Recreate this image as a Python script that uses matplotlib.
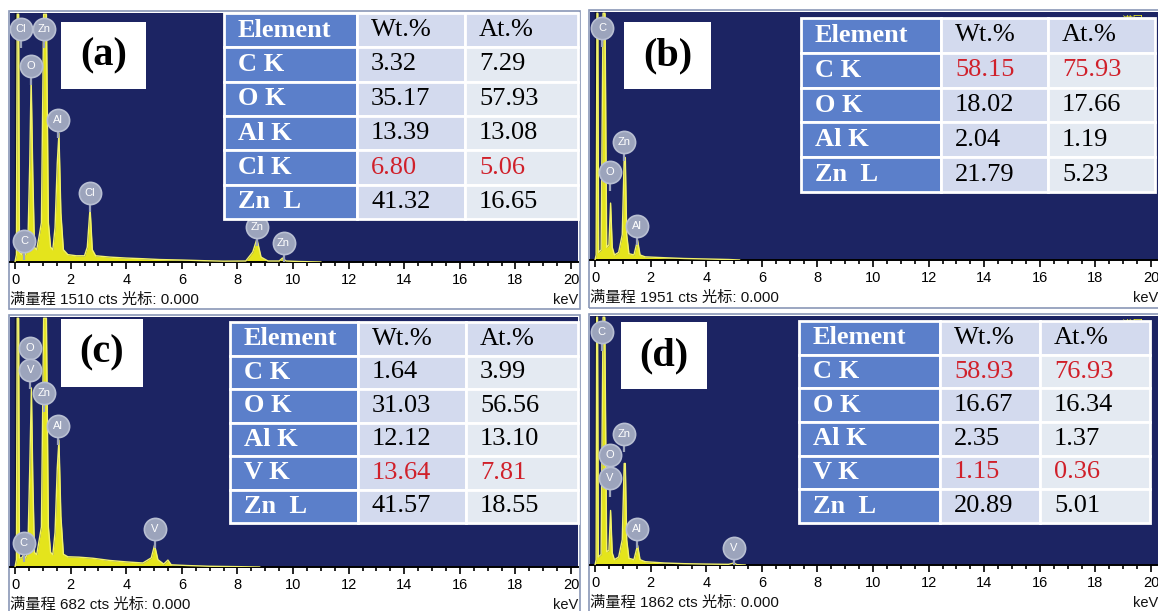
import numpy as np
import matplotlib
matplotlib.use("Agg")
import matplotlib.pyplot as plt
from matplotlib.patches import Rectangle

# ---------------- spectra (energy in keV, counts) ----------------
full_scale_a = 1510
energy_a = [0.00, 0.05, 0.08, 0.13, 0.16, 0.24, 0.30, 0.38, 0.46, 0.53, 0.58, 0.64, 0.70,
            0.78, 0.86, 0.95, 1.03, 1.13, 1.20, 1.28, 1.36, 1.44, 1.52, 1.58, 1.65, 1.74,
            1.90, 2.20, 2.50, 2.60, 2.70, 2.78, 2.90, 3.40, 4.00, 4.60, 5.20, 6.00, 6.80,
            7.50, 8.30, 8.55, 8.70, 8.85, 9.10, 9.50, 9.62, 9.75, 10.20, 11.00]
counts_a = [0, 45, 1510, 1510, 60, 45, 75, 45, 90, 600, 1125, 530, 90,
            75, 150, 240, 1510, 1510, 240, 90, 75, 210, 600, 785, 300, 75,
            45, 38, 38, 90, 330, 75, 38, 30, 24, 20, 15, 12, 8,
            5, 6, 60, 140, 30, 6, 6, 24, 6, 3, 0]

full_scale_b = 1951
energy_b = [0.00, 0.04, 0.07, 0.10, 0.13, 0.22, 0.29, 0.36, 0.42, 0.50, 0.56, 0.62, 0.70,
            0.85, 0.98, 1.05, 1.09, 1.14, 1.22, 1.40, 1.53, 1.62, 1.80, 2.50, 3.20, 4.00,
            4.80, 5.20]
counts_b = [0, 40, 1951, 1951, 60, 80, 1951, 1951, 100, 120, 450, 100, 40,
            60, 200, 810, 810, 200, 50, 40, 156, 40, 25, 18, 12, 8,
            4, 0]

full_scale_c = 682
energy_c = [0.00, 0.05, 0.08, 0.13, 0.16, 0.24, 0.31, 0.38, 0.46, 0.53, 0.59, 0.64, 0.70,
            0.78, 0.86, 0.95, 1.03, 1.13, 1.20, 1.28, 1.36, 1.44, 1.52, 1.58, 1.65, 1.74,
            1.90, 2.30, 2.80, 3.40, 4.00, 4.60, 4.90, 5.02, 5.14, 5.35, 5.50, 5.62, 6.20,
            7.00, 8.00, 8.80]
counts_c = [0, 20, 682, 682, 25, 25, 34, 25, 40, 270, 491, 240, 40,
            34, 70, 110, 682, 682, 110, 40, 34, 95, 270, 348, 140, 35,
            28, 27, 24, 18, 14, 11, 25, 60, 20, 8, 19, 6, 4,
            2, 1, 0]

full_scale_d = 1862
energy_d = [0.00, 0.04, 0.06, 0.09, 0.12, 0.22, 0.29, 0.35, 0.42, 0.50, 0.56, 0.62, 0.70,
            0.85, 0.98, 1.05, 1.09, 1.14, 1.22, 1.40, 1.53, 1.62, 1.80, 2.50, 3.20, 4.00,
            4.80, 5.00, 5.10, 5.40]
counts_d = [0, 40, 1862, 1862, 60, 80, 1862, 1862, 100, 110, 410, 90, 40,
            60, 190, 763, 763, 190, 50, 40, 149, 40, 25, 15, 10, 7,
            5, 15, 3, 0]

# ---------------- peak markers ----------------
marks_a = ["Cl", "Zn", "O", "Al", "Cl", "C", "Zn", "Zn"]
mark_x_a = [0.22, 1.05, 0.57, 1.55, 2.70, 0.33, 8.71, 9.66]
mark_y_a = [1419, 1419, 1193, 868, 418, 127, 211, 115]

marks_b = ["C", "Zn", "O", "Al"]
mark_x_b = [0.25, 1.04, 0.54, 1.51]
mark_y_b = [1834, 929, 693, 267]

marks_c = ["O", "V", "Zn", "Al", "V", "C"]
mark_x_c = [0.55, 0.55, 1.05, 1.55, 5.03, 0.31]
mark_y_c = [600, 539, 477, 387, 104, 65]

marks_d = ["C", "Zn", "O", "V", "Al", "V"]
mark_x_d = [0.24, 1.04, 0.54, 0.54, 1.51, 5.00]
mark_y_d = [1750, 987, 830, 652, 270, 127]

# ---------------- composition tables ----------------
table_header = ["Element", "Wt.%", "At.%"]

elements_a = ["C K", "O K", "Al K", "Cl K", "Zn  L"]
wt_a = [3.32, 35.17, 13.39, 6.80, 41.32]
at_a = [7.29, 57.93, 13.08, 5.06, 16.65]
red_rows_a = [3]

elements_b = ["C K", "O K", "Al K", "Zn  L"]
wt_b = [58.15, 18.02, 2.04, 21.79]
at_b = [75.93, 17.66, 1.19, 5.23]
red_rows_b = [0]

elements_c = ["C K", "O K", "Al K", "V K", "Zn  L"]
wt_c = [1.64, 31.03, 12.12, 13.64, 41.57]
at_c = [3.99, 56.56, 13.10, 7.81, 18.55]
red_rows_c = [3]

elements_d = ["C K", "O K", "Al K", "V K", "Zn  L"]
wt_d = [58.93, 16.67, 2.35, 1.15, 20.89]
at_d = [76.93, 16.34, 1.37, 0.36, 5.01]
red_rows_d = [0, 3]

panel_labels = ["(a)", "(b)", "(c)", "(d)"]
x_major_ticks = list(range(0, 21, 2))

# ---------------- styling ----------------
W, H = 1158, 611
NAVY = "#1c2463"
YELLOW = "#e4e41c"
YELLOW_EDGE = "#f2f26a"
BADGE = "#9ca4bc"
EL_BLUE = "#5b7fca"
WT_BG = "#d3daee"
AT_BG = "#e4eaf2"
RED = "#d0202a"
SANS = ["Liberation Sans", "Noto Sans CJK SC", "DejaVu Sans"]
SERIF = ["Liberation Serif", "DejaVu Serif"]


def fig_box(l, t, r, b):
    return [l / W, 1 - b / H, (r - l) / W, (b - t) / H]


fig = plt.figure(figsize=(W / 100, H / 100), dpi=100)
fig.patch.set_facecolor("white")

panels = [
    dict(energy=energy_a, counts=counts_a, fs=full_scale_a,
         marks=marks_a, mx=mark_x_a, my=mark_y_a,
         els=elements_a, wt=wt_a, at=at_a, red=red_rows_a,
         frame=(9, 11, 580, 309), spec=(10, 13, 578, 262), text_y=300,
         label_box=(61, 22, 146, 89), table=(224, 13, 578, 219),
         cols=(133, 108, 113), corner=False),
    dict(energy=energy_b, counts=counts_b, fs=full_scale_b,
         marks=marks_b, mx=mark_x_b, my=mark_y_b,
         els=elements_b, wt=wt_b, at=at_b, red=red_rows_b,
         frame=(589, 10, 1160, 308), spec=(590, 12, 1158, 260), text_y=298,
         label_box=(624, 22, 711, 89), table=(801, 18, 1155, 192),
         cols=(140, 107, 107), corner=True),
    dict(energy=energy_c, counts=counts_c, fs=full_scale_c,
         marks=marks_c, mx=mark_x_c, my=mark_y_c,
         els=elements_c, wt=wt_c, at=at_c, red=red_rows_c,
         frame=(9, 315, 580, 615), spec=(10, 317, 578, 567), text_y=605,
         label_box=(61, 319, 143, 387), table=(230, 322, 578, 523),
         cols=(128, 108, 112), corner=False),
    dict(energy=energy_d, counts=counts_d, fs=full_scale_d,
         marks=marks_d, mx=mark_x_d, my=mark_y_d,
         els=elements_d, wt=wt_d, at=at_d, red=red_rows_d,
         frame=(589, 314, 1160, 615), spec=(590, 316, 1158, 565), text_y=603,
         label_box=(621, 322, 707, 389), table=(799, 321, 1150, 523),
         cols=(141, 100, 110), corner=True),
]

for p, label in zip(panels, panel_labels):
    # panel frame
    fl, ft, fr, fb = p["frame"]
    fig.patches.append(Rectangle((fl / W, 1 - fb / H), (fr - fl) / W, (fb - ft) / H,
                                 transform=fig.transFigure, fill=False,
                                 edgecolor="#8a97b6", lw=1.2, zorder=-5))

    # spectrum
    sl, st, sr, sb = p["spec"]
    ax = fig.add_axes(fig_box(sl, st, sr, sb))
    ax.set_facecolor(NAVY)
    ax.set_xlim(-0.18, 20.25)
    ax.set_ylim(0, p["fs"] * 1.005)
    ax.axvline(0, color="#10142e", lw=1.0, zorder=1)
    ax.fill_between(p["energy"], p["counts"], color=YELLOW, lw=0, zorder=2)
    ax.plot(p["energy"], p["counts"], color=YELLOW_EDGE, lw=1.0, zorder=3)

    stem = 0.075 * p["fs"]
    for name, x, y in zip(p["marks"], p["mx"], p["my"]):
        ax.plot([x, x], [y, y - stem], color=BADGE, lw=1.6, zorder=4,
                solid_capstyle="butt")
        ax.plot(x, y, "o", ms=16, mfc=BADGE, mec="#b8bfd2", mew=1.2, zorder=5)
        ax.text(x, y, name, ha="center", va="center", color="white",
                fontsize=8, family=SANS, zorder=6)

    for side in ("top", "left", "right"):
        ax.spines[side].set_visible(False)
    ax.spines["bottom"].set_color("black")
    ax.spines["bottom"].set_linewidth(1.4)
    ax.set_yticks([])
    ax.set_xticks(x_major_ticks)
    ax.set_xticks(np.arange(0, 20.01, 0.5), minor=True)
    ax.tick_params(axis="x", which="major", direction="out", length=5, width=1.2,
                   pad=3, labelsize=10.5, colors="black")
    ax.tick_params(axis="x", which="minor", direction="out", length=3, width=1.2)
    for t in ax.get_xticklabels():
        t.set_family(SANS)

    if p["corner"]:
        ax.text(0.955, 0.985, "满屏", transform=ax.transAxes, ha="center",
                va="top", color="#e8e820", fontsize=8, family=SANS, zorder=1)

    fs_text = f"满量程 {p['fs']} cts 光标: 0.000"
    fig.text(sl / W, 1 - p["text_y"] / H, fs_text, ha="left", va="center",
             fontsize=11, family=SANS, color="#111111")
    fig.text(sr / W, 1 - p["text_y"] / H, "keV", ha="right", va="center",
             fontsize=10.5, family=SANS, color="#111111")

    # panel label
    ll, lt, lr, lb = p["label_box"]
    fig.patches.append(Rectangle((ll / W, 1 - lb / H), (lr - ll) / W, (lb - lt) / H,
                                 transform=fig.transFigure, facecolor="white",
                                 edgecolor="none", zorder=5))
    fig.text((ll + lr) / 2 / W, 1 - (lt + lb) / 2 / H, label, ha="center",
             va="center", fontsize=29, fontweight="bold", family=SERIF, zorder=6)

    # composition table
    tl, tt, tr, tb = p["table"]
    tax = fig.add_axes(fig_box(tl, tt, tr, tb))
    tax.set_axis_off()
    rows = [[el, f"{w:.2f}", f"{a:.2f}"] for el, w, a in zip(p["els"], p["wt"], p["at"])]
    col_px = p["cols"]
    total = sum(col_px)
    tbl = tax.table(cellText=rows, colLabels=table_header,
                    colWidths=[c / total for c in col_px],
                    cellLoc="left", colLoc="left", bbox=[0, 0, 1, 1])
    tbl.auto_set_font_size(False)
    for (r, c), cell in tbl.get_celld().items():
        cell.set_edgecolor("white")
        cell.set_linewidth(2.0)
        cell.PAD = 14 / col_px[c]
        txt = cell.get_text()
        txt.set_family(SERIF)
        txt.set_fontsize(19)
        if c == 0:
            cell.set_facecolor(EL_BLUE)
            txt.set_color("white")
            txt.set_fontweight("bold")
        else:
            cell.set_facecolor(WT_BG if (c == 1 or r == 0) else AT_BG)
            txt.set_color(RED if (r >= 1 and (r - 1) in p["red"]) else "black")

fig.savefig("out.png", dpi=100, facecolor="white")
